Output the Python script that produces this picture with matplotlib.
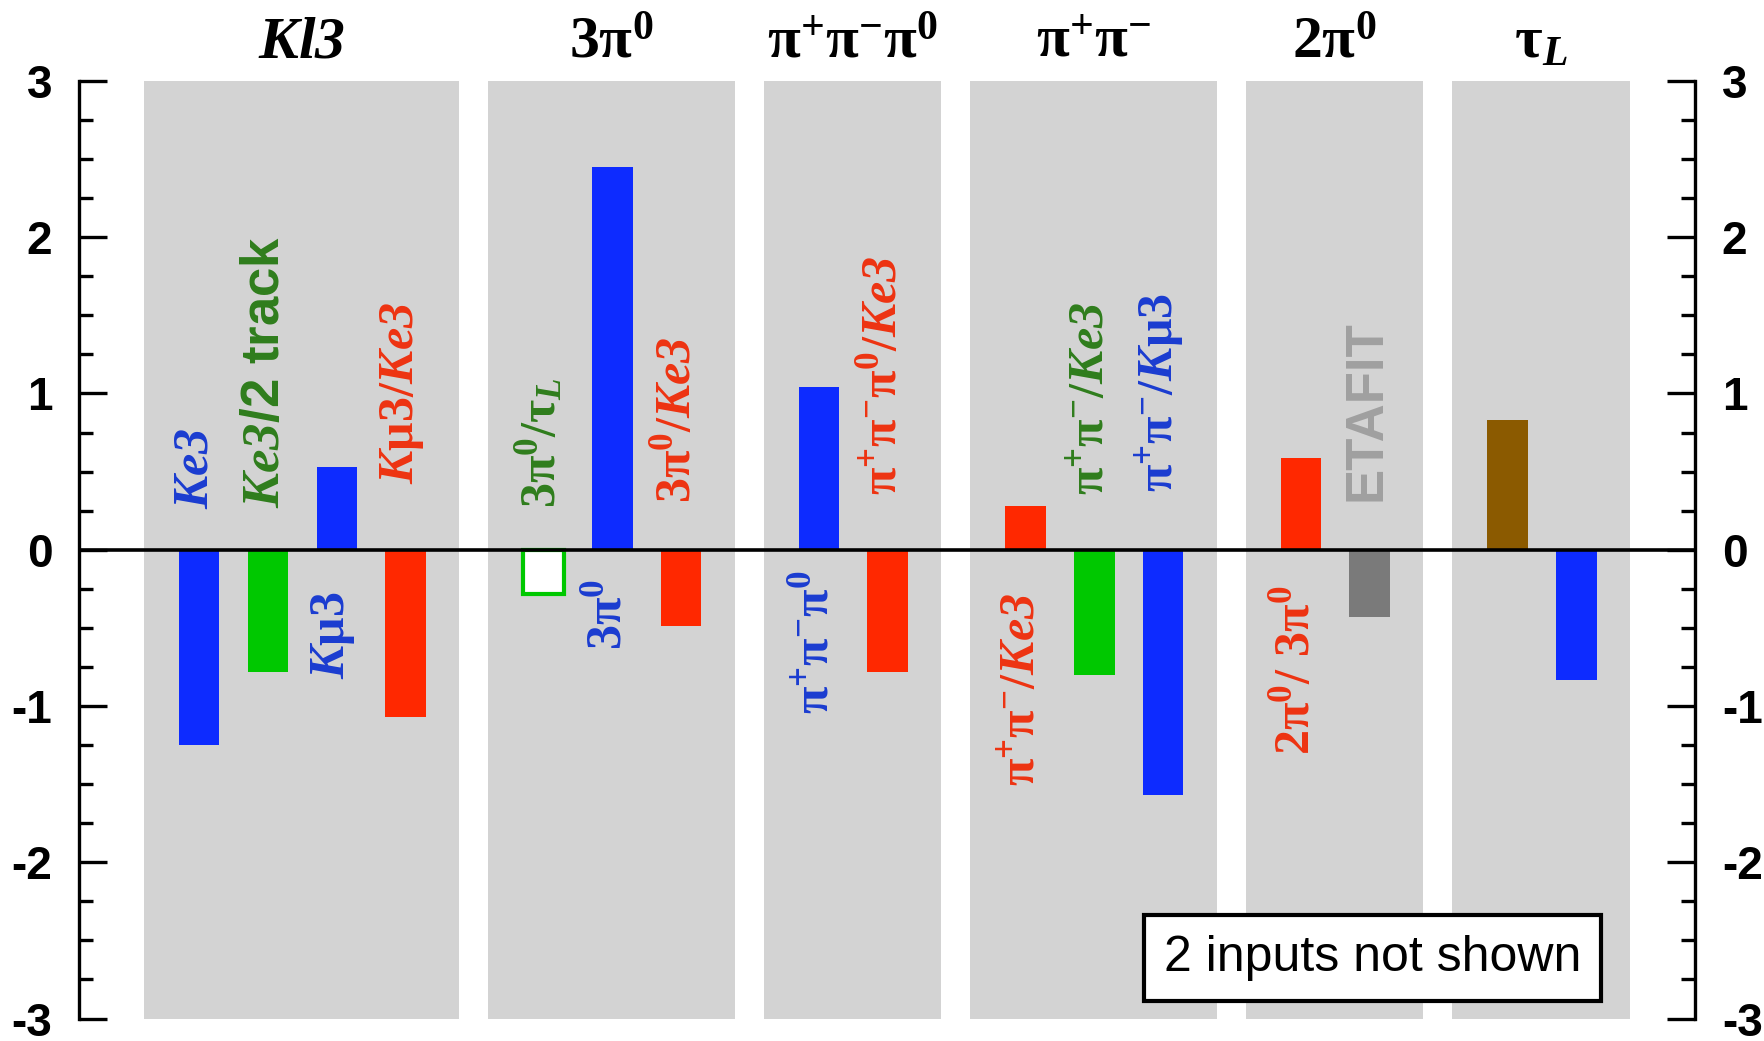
import numpy as np
import matplotlib
matplotlib.use("Agg")
import matplotlib.pyplot as plt

plt.rcParams['mathtext.fontset'] = 'custom'
plt.rcParams['mathtext.rm'] = 'Liberation Serif:bold'
plt.rcParams['mathtext.it'] = 'Liberation Serif:italic:bold'
plt.rcParams['mathtext.bf'] = 'Liberation Serif:bold'
plt.rcParams['mathtext.cal'] = 'Liberation Serif:italic:bold'  # all-italic words (digits too)
plt.rcParams['axes.unicode_minus'] = False

# group headers
groups = [r"$\mathcal{Kl3}$", r"$3\mathrm{\pi}^{0}$", r"$\mathrm{\pi}^{+}\mathrm{\pi}^{-}\mathrm{\pi}^{0}$",
          r"$\mathrm{\pi}^{+}\mathrm{\pi}^{-}$", r"$2\mathrm{\pi}^{0}$", r"$\mathrm{\tau}_{L}$"]

# one entry per bar
bar_group = [0, 0, 0, 0, 1, 1, 1, 2, 2, 3, 3, 3, 4, 4, 5, 5]
values = [-1.25, -0.785, 0.53, -1.07, -0.28, 2.45, -0.49, 1.04, -0.785,
          0.28, -0.80, -1.57, 0.59, -0.43, 0.83, -0.835]
bar_colors = ['#0d2bff', '#00c800', '#0d2bff', '#ff2800', 'white', '#0d2bff', '#ff2800',
              '#0d2bff', '#ff2800', '#ff2800', '#00c800', '#0d2bff', '#ff2800', '#7a7a7a',
              '#8b5a00', '#0d2bff']
labels = [r"$\mathcal{Ke3}$", r"$\mathcal{Ke3}$/2 track", r"$\mathit{K}\mathrm{\mu}3$",
          r"$\mathit{K}\mathrm{\mu}3/\mathcal{Ke3}$",
          r"$3\mathrm{\pi}^{0}/\mathrm{\tau}_{L}$", r"$3\mathrm{\pi}^{0}$", r"$3\mathrm{\pi}^{0}/\mathcal{Ke3}$",
          r"$\mathrm{\pi}^{+}\mathrm{\pi}^{-}\mathrm{\pi}^{0}$",
          r"$\mathrm{\pi}^{+}\mathrm{\pi}^{-}\mathrm{\pi}^{0}/\mathcal{Ke3}$",
          r"$\mathrm{\pi}^{+}\mathrm{\pi}^{-}/\mathcal{Ke3}$", r"$\mathrm{\pi}^{+}\mathrm{\pi}^{-}/\mathcal{Ke3}$",
          r"$\mathrm{\pi}^{+}\mathrm{\pi}^{-}/\mathit{K}\mathrm{\mu}3$",
          r"$2\mathrm{\pi}^{0}/\ 3\mathrm{\pi}^{0}$", "ETAFIT", "", ""]
label_colors = ['#1a3cd0', '#2f7d1c', '#1a3cd0', '#ee3311', '#2f7d1c', '#1a3cd0', '#ee3311',
                '#1a3cd0', '#ee3311', '#ee3311', '#2f7d1c', '#1a3cd0', '#ee3311', '#a0a0a0',
                'k', 'k']
# where each rotated label starts (distance from the zero line)
label_start = [0.26, 0.27, 0.27, 0.42, 0.27, 0.19, 0.30, 0.13, 0.35,
               0.28, 0.35, 0.37, 0.23, 0.31, 0, 0]

note = "2 inputs not shown"

pos = np.arange(len(values)) + np.array(bar_group)

fig = plt.figure(figsize=(17.64, 10.41), dpi=100)
ax = fig.add_axes([0.0446, 0.0216, 0.9165, 0.9006])
ax.set_xlim(-1.75, 21.73)
ax.set_ylim(-3, 3)

# gray bands + headers
for g, name in enumerate(groups):
    p = pos[np.array(bar_group) == g]
    lo, hi = p[0] - 0.8, p[-1] + 0.78
    ax.axvspan(lo, hi, color='#d3d3d3', zorder=0, lw=0)
    ax.text((lo + hi) / 2, 3.15, name, ha='center', va='baseline', fontsize=43,
            clip_on=False)

ax.bar(pos, values, width=0.59, color=bar_colors, zorder=2, lw=0)
# the open bar
ax.bar(pos[4], values[4], width=0.59, facecolor='white', edgecolor='#00c800', lw=3, zorder=3)

ax.axhline(0, color='black', lw=2.6, zorder=4)

for x, v, lab, c, s in zip(pos, values, labels, label_colors, label_start):
    if not lab:
        continue
    size = 36
    if lab == "ETAFIT":
        kw = dict(family='Liberation Sans', fontweight='bold')
        size = 38
    elif "track" in lab:
        kw = dict(family='Liberation Sans', fontweight='bold')
        size = 38
    else:
        kw = dict(family='Liberation Serif', fontweight='bold')
    if v < 0:
        ax.text(x - 0.05, s, lab, rotation=90, ha='center', va='bottom', color=c,
                fontsize=size, zorder=5, **kw)
    else:
        ax.text(x - 0.05, -s, lab, rotation=90, ha='center', va='top', color=c,
                fontsize=size, zorder=5, **kw)

ax.text(17.04, -2.61, note, ha='center', va='center', fontsize=36,
        family='Liberation Sans', zorder=6,
        bbox=dict(boxstyle='square,pad=0.4', fc='white', ec='black', lw=3))

for side in ['top', 'bottom']:
    ax.spines[side].set_visible(False)
for side in ['left', 'right']:
    ax.spines[side].set_linewidth(2.4)
ax.set_xticks([])
ax.set_yticks([-3, -2, -1, 0, 1, 2, 3])
ax.set_yticks(np.arange(-3, 3.01, 0.25), minor=True)
ax.tick_params(axis='y', which='both', direction='in', left=True, right=True,
               labelleft=True, labelright=True, width=2.4)
ax.tick_params(axis='y', which='major', length=20, pad=19)
ax.tick_params(axis='y', which='minor', length=10)
for t in ax.get_yticklabels():
    t.set_fontsize(33)
    t.set_fontweight('bold')
    t.set_family('Liberation Sans')

fig.savefig("out.png", dpi=100)
